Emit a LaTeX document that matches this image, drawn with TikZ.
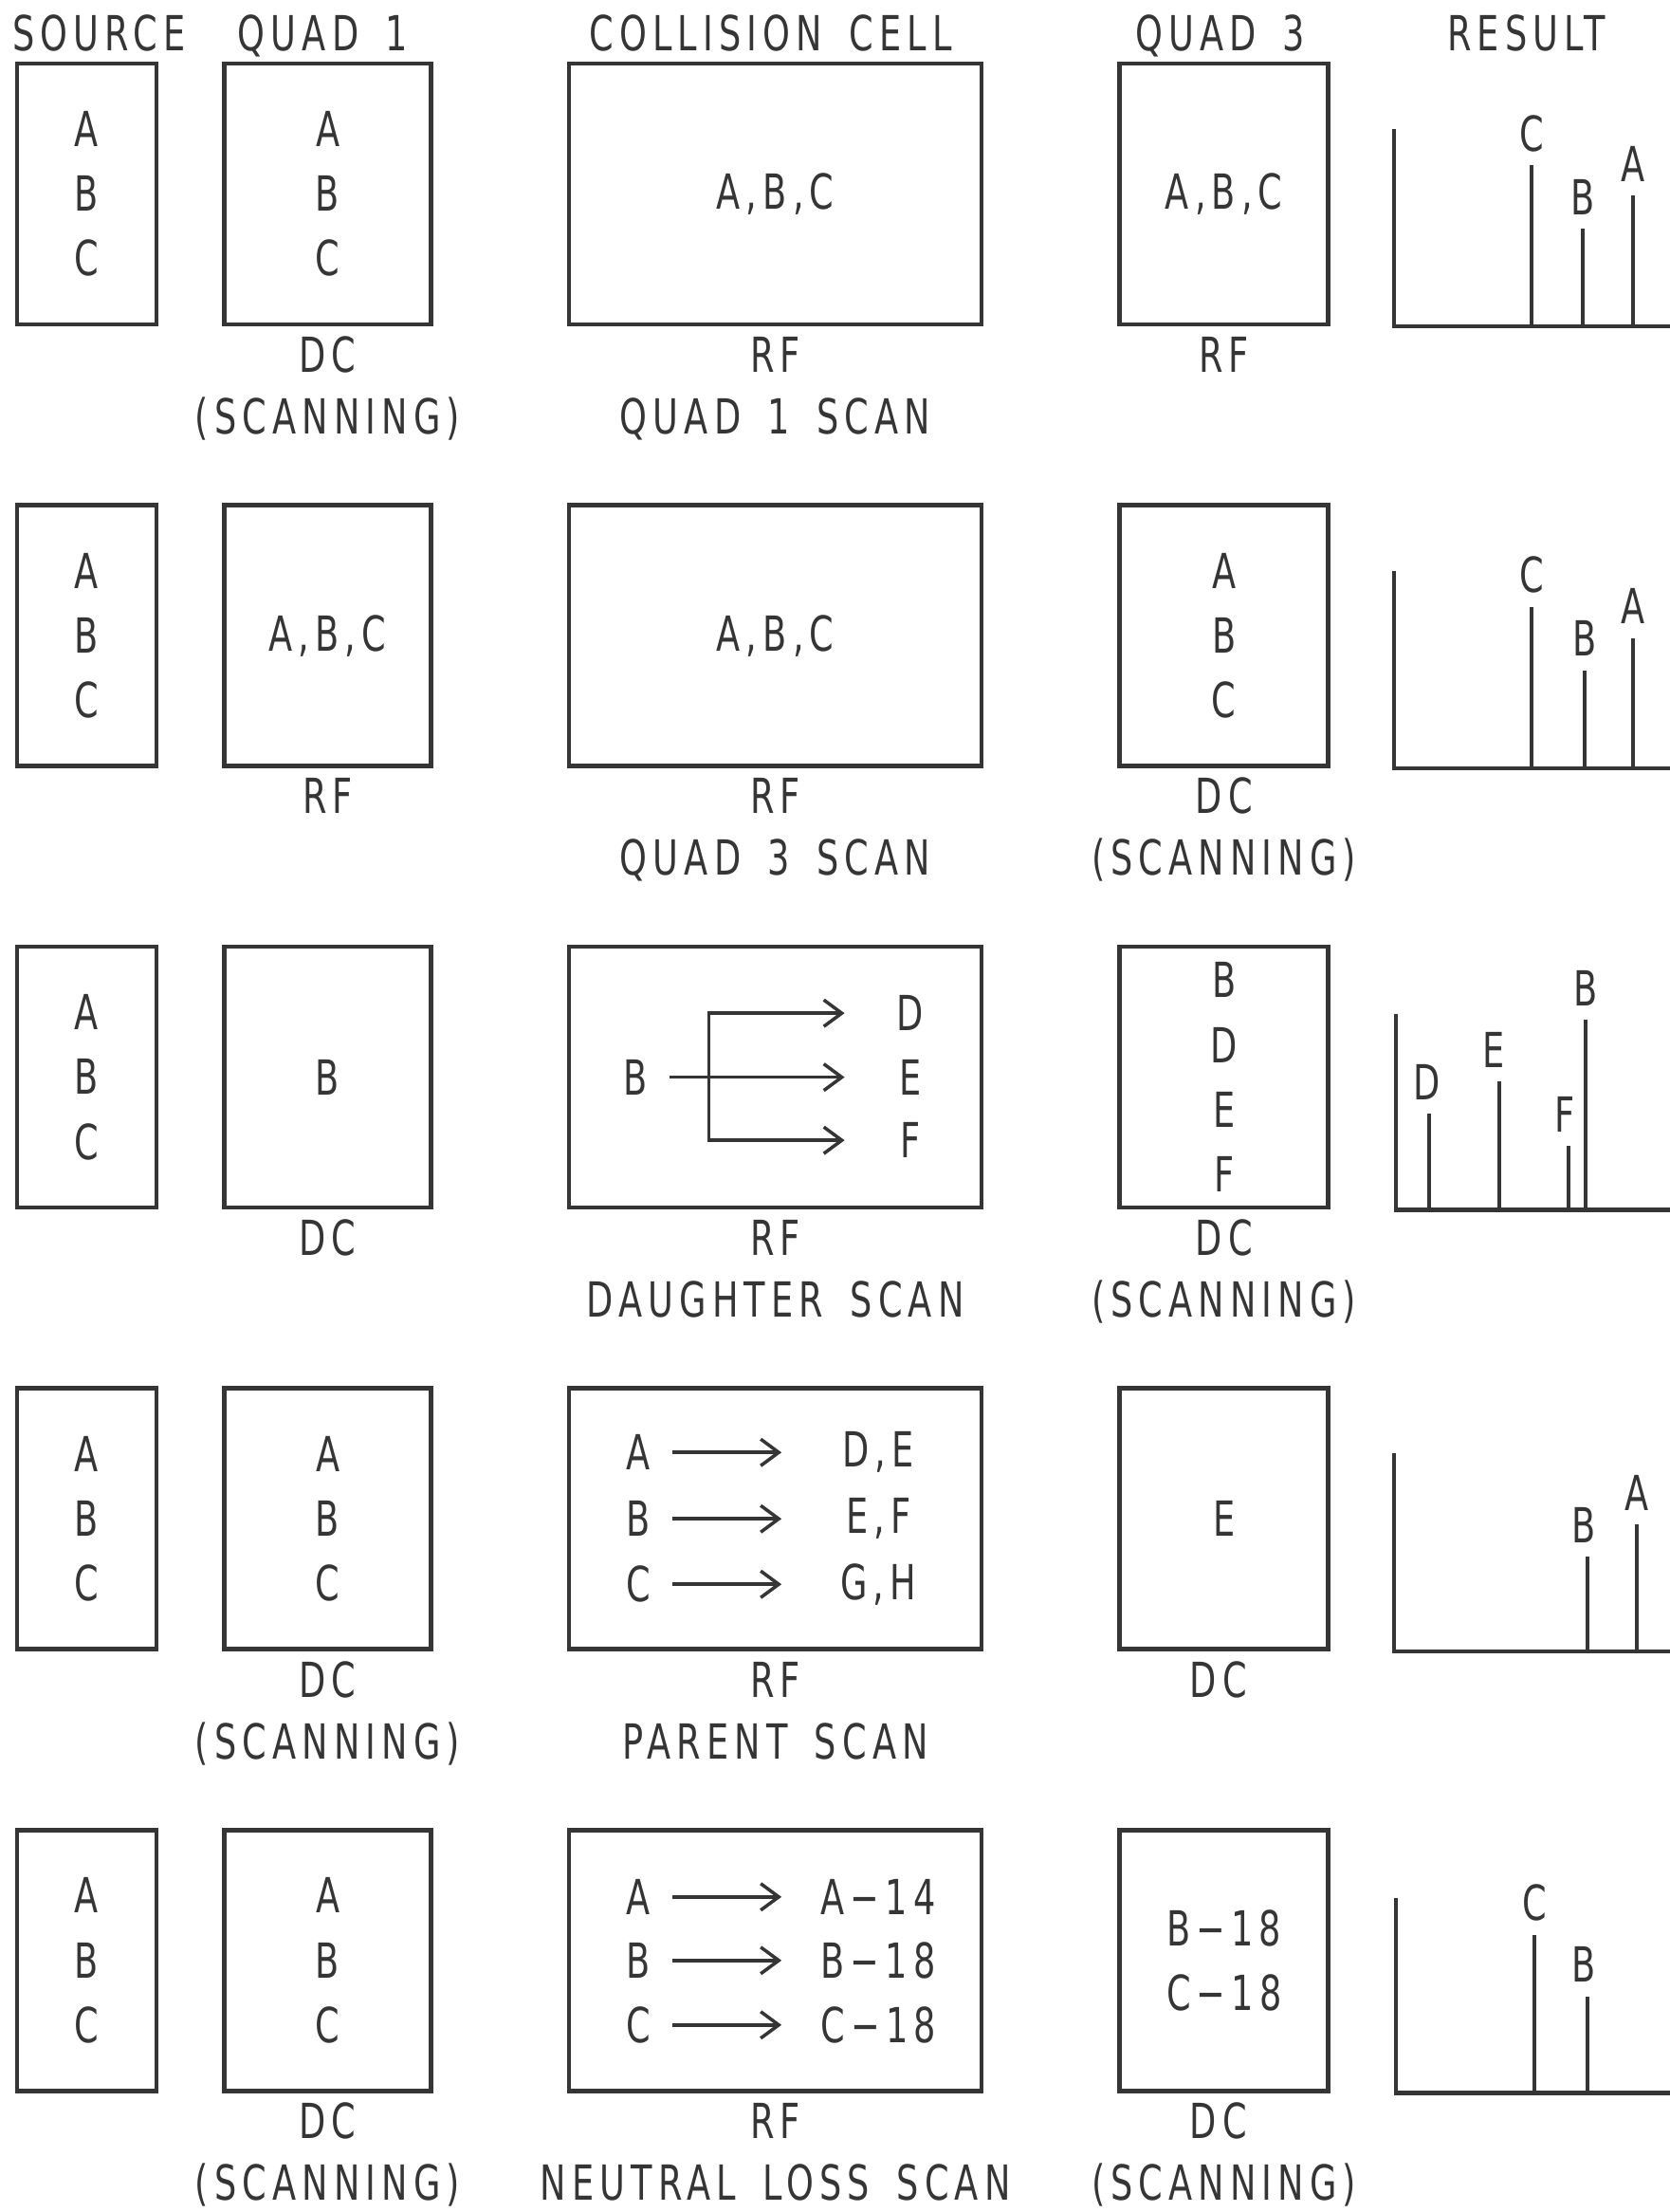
\documentclass[tikz,border=0pt]{standalone}
\usepackage{fontspec}
\setmainfont[FakeStretch=0.72,LetterSpace=12,WordSpace=1.6]{DejaVu Sans}
\usetikzlibrary{arrows.meta,positioning,calc}
\definecolor{ink}{HTML}{353535}

\begin{document}
\begin{tikzpicture}[
    every node/.style={
        font=\fontsize{14.5}{19.4}\selectfont,
        text=ink,
        align=center
    },
    srcbox/.style={
        draw=ink,
        line width=1.3pt,
        minimum width=1.47cm,
        minimum height=2.75cm
    },
    quadbox/.style={
        srcbox,
        minimum width=2.18cm
    },
    cellbox/.style={
        srcbox,
        minimum width=4.35cm
    },
    lbl/.style={
        inner sep=0pt,
        anchor=base
    },
    pklbl/.style={
        lbl,
        yshift=1.5mm
    },
    axis/.style={
        draw=ink,
        line width=1.25pt
    },
    peak/.style={
        draw=ink,
        line width=1.15pt
    },
    arr/.style={
        draw=ink,
        line width=1pt,
        shorten <=1.1mm,
        -{Straight Barb[length=1.9mm,width=2.8mm]}
    }
]

\useasboundingbox (0,0) rectangle (17.6,-23.32);

% ============================================================
% Row 1: quad 1 scan
% ============================================================

\node[srcbox] (src1) at (0.915,-2.045) {A\\B\\C};

\node[quadbox, right=6.7mm of src1] (qone1) {A\\B\\C};

\node[cellbox, right=14.1mm of qone1] (cell1) {A,B,C};

\node[quadbox, minimum width=2.2cm, right=14.1mm of cell1] (qthree1) {A,B,C};

% Column headings
\node[above=1.1mm of src1.north, lbl, xshift=1.3mm] (hsrc) {SOURCE};
\node[above=1.1mm of qone1.north, lbl, xshift=-0.5mm] (hqone) {QUAD 1};
\node[above=1.1mm of cell1.north, lbl, xshift=-0.5mm] (hcell) {COLLISION CELL};
\node[above=1.1mm of qthree1.north, lbl, xshift=-0.4mm] (hqthree) {QUAD 3};
\node[lbl] (hres) at ($(hqthree.base)+(32.3mm,0)$) {RESULT};

\node[below=4.8mm of qone1.south, lbl] (qone1a) {DC};
\node[below=6.5mm of qone1a.base, lbl] (qone1b) {(SCANNING)};
\node[below=4.8mm of cell1.south, lbl] (cell1a) {RF};
\node[below=6.5mm of cell1a.base, lbl] (cell1b) {QUAD 1 SCAN};
\node[below=4.8mm of qthree1.south, lbl] (qthree1a) {RF};

% Result
\coordinate (res1) at ($(qthree1.south east)+(6.7mm,0)$);

\draw[axis] ($(res1)+(0,20.8mm)$) -- (res1) -- ++(3,0);
\draw[peak] ($(res1)+(14.5mm,0)$) -- ++(0,17mm) node[pklbl] (res1C) {C};
\draw[peak] ($(res1)+(19.9mm,0)$) -- ++(0,10.3mm) node[pklbl] (res1B) {B};
\draw[peak] ($(res1)+(25.2mm,0)$) -- ++(0,13.8mm) node[pklbl] (res1A) {A};

% ============================================================
% Row 2: quad 3 scan
% ============================================================

\node[srcbox, below=18.6mm of src1] (src2) {A\\B\\C};

\node[quadbox, right=6.7mm of src2] (qone2) {A,B,C};

\node[cellbox, right=14.1mm of qone2] (cell2) {A,B,C};

\node[quadbox, minimum width=2.2cm, right=14.1mm of cell2] (qthree2) {A\\B\\C};

\node[below=4.8mm of qone2.south, lbl] (qone2a) {RF};
\node[below=4.8mm of cell2.south, lbl] (cell2a) {RF};
\node[below=6.5mm of cell2a.base, lbl] (cell2b) {QUAD 3 SCAN};
\node[below=4.8mm of qthree2.south, lbl] (qthree2a) {DC};
\node[below=6.5mm of qthree2a.base, lbl] (qthree2b) {(SCANNING)};

% Result
\coordinate (res2) at ($(qthree2.south east)+(6.7mm,0)$);

\draw[axis] ($(res2)+(0,20.8mm)$) -- (res2) -- ++(3,0);
\draw[peak] ($(res2)+(14.5mm,0)$) -- ++(0,17mm) node[pklbl] (res2C) {C};
\draw[peak] ($(res2)+(20.1mm,0)$) -- ++(0,10.3mm) node[pklbl] (res2B) {B};
\draw[peak] ($(res2)+(25.2mm,0)$) -- ++(0,13.7mm) node[pklbl] (res2A) {A};

% ============================================================
% Row 3: daughter scan
% ============================================================

\node[srcbox, below=18.6mm of src2] (src3) {A\\B\\C};

\node[quadbox, right=6.7mm of src3] (qone3) {B};

\node[cellbox, right=14.1mm of qone3] (cell3) {};

\node[quadbox, minimum width=2.2cm, right=14.1mm of cell3] (qthree3) {B\\D\\E\\F};

% Fragments of B
\node (dB) at ($(cell3.center)+(-14.8mm,0)$) {B};
\node (dD) at ($(cell3.center)+(14.2mm,6.75mm)$) {D};
\node (dE) at ($(cell3.center)+(14.2mm,0)$) {E};
\node (dF) at ($(cell3.center)+(14.2mm,-6.65mm)$) {F};

\coordinate (dsplit) at ($(cell3.center)+(-7.0mm,0)$);
\coordinate (dDto) at ($(dD)+(-6.9mm,0)$);
\coordinate (dEto) at ($(dE)+(-6.9mm,0)$);
\coordinate (dFto) at ($(dF)+(-6.9mm,0)$);

\draw[arr] (dB) -- (dEto);
\draw[arr, shorten <=0pt] (dsplit) |- (dDto);
\draw[arr, shorten <=0pt] (dsplit) |- (dFto);

\node[below=4.8mm of qone3.south, lbl] (qone3a) {DC};
\node[below=4.8mm of cell3.south, lbl] (cell3a) {RF};
\node[below=6.5mm of cell3a.base, lbl] (cell3b) {DAUGHTER SCAN};
\node[below=4.8mm of qthree3.south, lbl] (qthree3a) {DC};
\node[below=6.5mm of qthree3a.base, lbl] (qthree3b) {(SCANNING)};

% Result
\coordinate (res3) at ($(qthree3.south east)+(6.9mm,0)$);

\draw[axis] ($(res3)+(0,20.6mm)$) -- (res3) -- ++(3,0);
\draw[peak] ($(res3)+(3.5mm,0)$) -- ++(0,10.1mm) node[pklbl, xshift=-0.2mm] (res3D) {D};
\draw[peak] ($(res3)+(10.9mm,0)$) -- ++(0,13.5mm) node[pklbl, xshift=-0.6mm] (res3E) {E};
\draw[peak] ($(res3)+(18.2mm,0)$) -- ++(0,6.7mm) node[pklbl, xshift=-0.4mm] (res3F) {F};
\draw[peak] ($(res3)+(20.0mm,0)$) -- ++(0,20mm) node[pklbl] (res3B) {B};

% ============================================================
% Row 4: parent scan
% ============================================================

\node[srcbox, below=18.6mm of src3] (src4) {A\\B\\C};

\node[quadbox, right=6.7mm of src4] (qone4) {A\\B\\C};

\node[cellbox, right=14.1mm of qone4] (cell4) {};

\node[quadbox, minimum width=2.2cm, right=14.1mm of cell4] (qthree4) {E};

% Parents and their fragments
\node (pA) at ($(cell4.center)+(-14.45mm,7mm)$) {A};
\node (pB) at ($(cell4.center)+(-14.45mm,0)$) {B};
\node (pC) at ($(cell4.center)+(-14.45mm,-6.9mm)$) {C};
\node (pDE) at ($(cell4.center)+(10.85mm,7mm)$) {D,E};
\node (pEF) at ($(cell4.center)+(10.85mm,0)$) {E,F};
\node (pGH) at ($(cell4.center)+(10.85mm,-6.9mm)$) {G,H};

\coordinate (pAto) at ($(pA)+(15.1mm,0)$);
\coordinate (pBto) at ($(pB)+(15.1mm,0)$);
\coordinate (pCto) at ($(pC)+(15.1mm,0)$);

\draw[arr] (pA) -- (pAto);
\draw[arr] (pB) -- (pBto);
\draw[arr] (pC) -- (pCto);

\node[below=4.8mm of qone4.south, lbl] (qone4a) {DC};
\node[below=6.5mm of qone4a.base, lbl] (qone4b) {(SCANNING)};
\node[below=4.8mm of cell4.south, lbl] (cell4a) {RF};
\node[below=6.5mm of cell4a.base, lbl] (cell4b) {PARENT SCAN};
\node[below=4.8mm of qthree4.south, lbl, xshift=-0.6mm] (qthree4a) {DC};

% Result
\coordinate (res4) at ($(qthree4.south east)+(6.7mm,0)$);

\draw[axis] ($(res4)+(0,20.9mm)$) -- (res4) -- ++(3,0);
\draw[peak] ($(res4)+(20.4mm,0)$) -- ++(0,10mm) node[pklbl, xshift=-0.4mm] (res4B) {B};
\draw[peak] ($(res4)+(25.6mm,0)$) -- ++(0,13.4mm) node[pklbl] (res4A) {A};

% ============================================================
% Row 5: neutral loss scan
% ============================================================

\node[srcbox, below=18.6mm of src4] (src5) {A\\B\\C};

\node[quadbox, right=6.7mm of src5] (qone5) {A\\B\\C};

\node[cellbox, right=14.1mm of qone5] (cell5) {};

\node[quadbox, minimum width=2.2cm, right=14.1mm of cell5] (qthree5) {B−18\\C−18};

% Losses
\node (nA) at ($(cell5.center)+(-14.45mm,6.7mm)$) {A};
\node (nB) at ($(cell5.center)+(-14.45mm,0)$) {B};
\node (nC) at ($(cell5.center)+(-14.45mm,-6.8mm)$) {C};
\node (nA14) at ($(cell5.center)+(10.85mm,6.7mm)$) {A−14};
\node (nB18) at ($(cell5.center)+(10.85mm,0)$) {B−18};
\node (nC18) at ($(cell5.center)+(10.85mm,-6.8mm)$) {C−18};

\coordinate (nAto) at ($(nA)+(15.1mm,0)$);
\coordinate (nBto) at ($(nB)+(15.1mm,0)$);
\coordinate (nCto) at ($(nC)+(15.1mm,0)$);

\draw[arr] (nA) -- (nAto);
\draw[arr] (nB) -- (nBto);
\draw[arr] (nC) -- (nCto);

\node[below=4.8mm of qone5.south, lbl] (qone5a) {DC};
\node[below=6.5mm of qone5a.base, lbl] (qone5b) {(SCANNING)};
\node[below=4.8mm of cell5.south, lbl] (cell5a) {RF};
\node[below=6.5mm of cell5a.base, lbl] (cell5b) {NEUTRAL LOSS SCAN};
\node[below=4.8mm of qthree5.south, lbl, xshift=-0.6mm] (qthree5a) {DC};
\node[below=6.5mm of qthree5a.base, lbl, xshift=0.6mm] (qthree5b) {(SCANNING)};

% Result
\coordinate (res5) at ($(qthree5.south east)+(6.9mm,0)$);

\draw[axis] ($(res5)+(0,20.6mm)$) -- (res5) -- ++(3,0);
\draw[peak] ($(res5)+(14.6mm,0)$) -- ++(0,16.7mm) node[pklbl] (res5C) {C};
\draw[peak] ($(res5)+(20.2mm,0)$) -- ++(0,10.2mm) node[pklbl, xshift=-0.4mm] (res5B) {B};

\end{tikzpicture}
\end{document}
